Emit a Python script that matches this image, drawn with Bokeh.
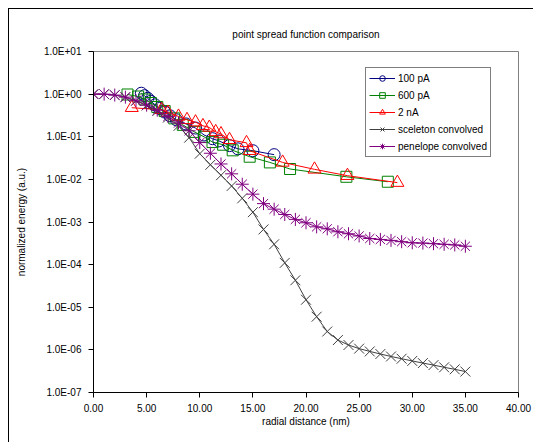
from bokeh.plotting import figure
from bokeh.models import Range1d, FixedTicker, Legend, LegendItem
from bokeh.embed import file_html
from bokeh.resources import INLINE

# ---- data ----
x_100pA = [4.5, 4.8, 5.1, 5.4, 5.8, 6.2, 6.7, 7.2, 7.8, 8.7, 9.6, 10.4, 11.2, 11.8, 12.8, 13.6, 15.0, 17.0]
y_100pA = [1.05, 0.92, 0.80, 0.68, 0.56, 0.46, 0.38, 0.31, 0.25, 0.20, 0.16, 0.11, 0.09, 0.08, 0.062, 0.052, 0.047, 0.038]

x_600pA = [3.2, 4.2, 4.8, 5.4, 6.0, 6.7, 7.6, 8.4, 9.5, 10.4, 11.2, 12.2, 13.1, 14.7, 16.6, 18.5, 23.8, 27.7]
y_600pA = [0.98, 0.88, 0.75, 0.62, 0.50, 0.40, 0.27, 0.19, 0.13, 0.10, 0.075, 0.065, 0.048, 0.034, 0.025, 0.0175, 0.0115, 0.0088]

x_2nA = [3.6, 6.4, 7.0, 8.0, 8.8, 9.6, 10.3, 10.9, 11.5, 12.0, 12.8, 14.4, 14.7, 17.8, 20.8, 23.9, 28.6]
y_2nA = [0.48, 0.43, 0.37, 0.30, 0.25, 0.22, 0.18, 0.165, 0.13, 0.116, 0.085, 0.072, 0.047, 0.025, 0.0172, 0.0122, 0.0084]

x_sceleton = [0, 1, 2, 3, 4, 5, 6, 7, 8, 9, 10, 11, 12, 13, 14, 15, 16, 17, 18, 19, 20, 21, 22, 23, 24, 25, 26, 27, 28, 29, 30, 31, 32, 33, 34, 35]
y_sceleton = [1.0, 1.0, 0.95, 0.85, 0.70, 0.54, 0.40, 0.28, 0.18, 0.095, 0.040, 0.022, 0.0125, 0.0070, 0.0036, 0.0017, 6.7e-4, 3.0e-4, 1.1e-4, 4.3e-5, 1.5e-5, 6.0e-6, 2.7e-6, 1.7e-6, 1.3e-6, 1.07e-6, 9.2e-7, 8.0e-7, 7.0e-7, 6.2e-7, 5.5e-7, 4.9e-7, 4.4e-7, 3.9e-7, 3.5e-7, 3.1e-7]

x_penelope = [0, 1, 2, 3, 4, 5, 6, 7, 8, 9, 10, 11, 12, 13, 14, 15, 16, 17, 18, 19, 20, 21, 22, 23, 24, 25, 26, 27, 28, 29, 30, 31, 32, 33, 34, 35]
y_penelope = [1.0, 1.0, 0.95, 0.85, 0.70, 0.55, 0.42, 0.30, 0.21, 0.138, 0.073, 0.041, 0.023, 0.0135, 0.0077, 0.0045, 0.0027, 0.0020, 0.0015, 0.00115, 9.6e-4, 7.7e-4, 6.9e-4, 5.9e-4, 5.3e-4, 4.7e-4, 4.1e-4, 3.9e-4, 3.7e-4, 3.45e-4, 3.25e-4, 3.2e-4, 3.1e-4, 3.0e-4, 2.9e-4, 2.7e-4]

x_ticks = [0, 5, 10, 15, 20, 25, 30, 35, 40]
x_tick_labels = ["0.00", "5.00", "10.00", "15.00", "20.00", "25.00", "30.00", "35.00", "40.00"]
y_ticks = [1e1, 1e0, 1e-1, 1e-2, 1e-3, 1e-4, 1e-5, 1e-6, 1e-7]
y_tick_labels = ["1.0E+01", "1.0E+00", "1.0E-01", "1.0E-02", "1.0E-03", "1.0E-04", "1.0E-05", "1.0E-06", "1.0E-07"]
title_text = "point spread function comparison"

FONT = "Liberation Sans"

p = figure(width=525, height=434, output_backend="svg", toolbar_location=None,
           x_range=Range1d(0, 40), y_range=Range1d(1e-7, 10), y_axis_type="log",
           min_border_left=84, min_border_right=16, min_border_top=42, min_border_bottom=51)

p.margin = (8, 0, 0, 8)
p.styles = {"border-left": "1px solid black", "border-top": "1px solid black",
            "box-sizing": "border-box"}

p.title.text = title_text
p.title.align = "center"
p.title.text_font = FONT
p.title.text_font_size = "10px"
p.title.text_font_style = "normal"
p.title.text_color = "black"
p.title.standoff = 24

p.grid.visible = False
p.outline_line_color = "#808080"
p.outline_line_width = 1
p.background_fill_color = "white"
p.border_fill_color = "white"

p.xaxis.ticker = FixedTicker(ticks=x_ticks)
p.xaxis.major_label_overrides = {t: l for t, l in zip(x_ticks, x_tick_labels)}
p.yaxis.ticker = FixedTicker(ticks=y_ticks)
p.yaxis.major_label_overrides = {t: l for t, l in zip(y_ticks, y_tick_labels)}

for ax in (p.xaxis, p.yaxis):
    ax.axis_line_color = "black"
    ax.major_tick_line_color = "black"
    ax.major_tick_out = 5
    ax.major_tick_in = 0
    ax.minor_tick_line_color = None
    ax.major_label_text_font = FONT
    ax.major_label_text_font_size = "10px"
    ax.major_label_text_color = "black"
    ax.axis_label_text_font = FONT
    ax.axis_label_text_font_size = "10px"
    ax.axis_label_text_font_style = "normal"
    ax.axis_label_text_color = "black"

p.xaxis.axis_label = "radial distance (nm)"
p.yaxis.axis_label = "normalized energy (a.u.)"
p.xaxis.major_label_standoff = 6
p.yaxis.major_label_standoff = 7
p.xaxis.axis_label_standoff = 1
p.yaxis.axis_label_standoff = 14

series = [
    ("100 pA", x_100pA, y_100pA, "#000080", "#000080", "circle", 12),
    ("600 pA", x_600pA, y_600pA, "#008000", "#008000", "square", 11),
    ("2 nA", x_2nA, y_2nA, "#FF0000", "#FF0000", "triangle", 13),
    ("sceleton convolved", x_sceleton, y_sceleton, "#404040", "#404040", "x", 14),
    ("penelope convolved", x_penelope, y_penelope, "#800080", "#800080", "asterisk", 13),
]

items = []
for label, xs, ys, lc, mc, marker, size in series:
    lr = p.line(xs, ys, line_color=lc, line_width=1)
    sr = p.scatter(xs, ys, marker=marker, size=size, line_color=mc, fill_color=None, line_width=1)
    items.append(LegendItem(label=label, renderers=[lr, sr]))

legend = Legend(items=items, location=(272, 235))
legend.label_text_font = FONT
legend.label_text_font_size = "10px"
legend.label_text_color = "black"
legend.border_line_color = "black"
legend.border_line_width = 1
legend.background_fill_color = "white"
legend.background_fill_alpha = 1
legend.padding = 3
legend.margin = 0
legend.spacing = 3
legend.label_height = 14
legend.glyph_height = 14
legend.glyph_width = 26
legend.label_standoff = 3
p.add_layout(legend, "center")

open("out.html", "w").write(file_html(p, INLINE))
